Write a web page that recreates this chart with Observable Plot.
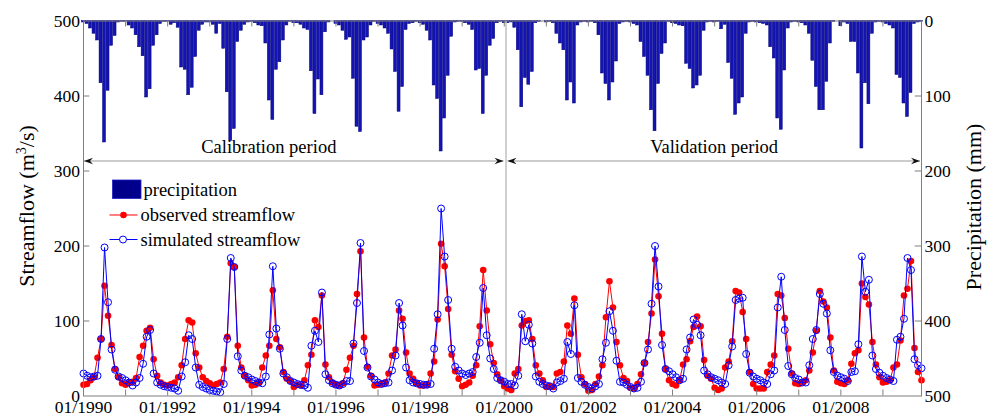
<!DOCTYPE html>
<html><head><meta charset="utf-8">
<script src="https://cdn.jsdelivr.net/npm/d3@7"></script>
<script src="https://cdn.jsdelivr.net/npm/@observablehq/plot@0.6"></script>
<style>
html,body{margin:0;padding:0;background:#fff;}
#chart{width:992px;height:417px;overflow:hidden;}
</style></head><body><div id="chart"></div>
<script>
// Monthly series, 01/1990 .. 12/2009 (index 0..239)
const precipitation = [
  2, 4, 10, 17, 26, 83, 162, 93, 33, 20, 2, 1,
  1, 6, 10, 19, 35, 47, 102, 91, 33, 19, 4, 1,
  1, 5, 3, 9, 62, 65, 99, 89, 48, 13, 5, 2,
  2, 5, 17, 4, 37, 95, 160, 144, 28, 13, 5, 2,
  1, 3, 6, 7, 30, 106, 132, 65, 55, 26, 6, 1,
  3, 3, 5, 10, 12, 67, 124, 78, 99, 15, 2, 0,
  4, 6, 13, 25, 22, 77, 141, 148, 26, 22, 6, 1,
  4, 6, 10, 17, 38, 68, 121, 88, 12, 4, 3, 1,
  3, 5, 13, 26, 86, 104, 174, 130, 73, 21, 2, 1,
  1, 3, 5, 12, 66, 64, 124, 73, 33, 24, 3, 1,
  3, 3, 2, 9, 39, 115, 76, 85, 68, 3, 1, 0,
  2, 1, 3, 17, 30, 39, 106, 82, 110, 6, 2, 1,
  2, 1, 3, 19, 70, 84, 106, 82, 54, 4, 2, 1,
  2, 4, 6, 28, 48, 73, 119, 147, 84, 44, 30, 1,
  3, 4, 6, 7, 57, 64, 90, 86, 73, 13, 2, 1,
  2, 1, 11, 5, 56, 77, 125, 110, 102, 17, 2, 1,
  2, 3, 4, 6, 35, 50, 130, 145, 66, 10, 2, 1,
  2, 3, 6, 17, 53, 88, 119, 119, 81, 30, 1, 0,
  7, 2, 4, 28, 28, 70, 170, 83, 111, 17, 2, 1,
  2, 4, 6, 10, 72, 76, 110, 128, 96, 4, 2, 1
];
const observed = [
  15, 16, 21, 25, 51, 76, 147, 107, 68, 36, 25, 17,
  15, 18, 19, 24, 52, 67, 87, 91, 49, 27, 18, 15,
  14, 16, 18, 25, 41, 76, 101, 98, 57, 38, 25, 20,
  17, 14, 16, 18, 36, 79, 177, 172, 67, 38, 27, 21,
  14, 15, 18, 38, 54, 67, 141, 76, 65, 32, 23, 20,
  12, 15, 14, 21, 41, 55, 101, 92, 134, 42, 25, 18,
  15, 14, 17, 35, 51, 67, 136, 193, 78, 39, 27, 14,
  15, 16, 18, 30, 54, 62, 114, 103, 58, 30, 23, 17,
  14, 14, 15, 30, 46, 102, 203, 173, 116, 55, 33, 23,
  13, 15, 18, 27, 41, 93, 168, 114, 69, 44, 29, 21,
  13, 10, 8, 30, 36, 94, 100, 101, 76, 41, 30, 21,
  12, 13, 12, 30, 32, 46, 94, 83, 130, 55, 25, 16,
  7, 8, 16, 26, 41, 105, 153, 118, 72, 41, 24, 20,
  11, 10, 16, 29, 44, 72, 110, 182, 133, 83, 36, 21,
  16, 14, 21, 42, 49, 73, 92, 106, 93, 48, 27, 23,
  11, 8, 10, 38, 46, 73, 140, 138, 112, 76, 32, 16,
  10, 10, 10, 32, 42, 54, 136, 134, 104, 63, 30, 17,
  16, 18, 21, 34, 58, 87, 140, 126, 118, 78, 34, 19,
  17, 16, 21, 43, 57, 61, 150, 132, 122, 72, 42, 25,
  18, 19, 21, 38, 42, 74, 134, 143, 180, 64, 32, 21
];
const simulated = [
  30, 27, 25, 26, 27, 76, 198, 125, 62, 35, 26, 24,
  21, 18, 14, 18, 24, 43, 79, 88, 30, 18, 15, 13,
  12, 11, 10, 7, 26, 45, 81, 76, 38, 15, 12, 10,
  8, 7, 6, 5, 16, 76, 184, 172, 53, 34, 27, 25,
  22, 20, 18, 17, 26, 82, 173, 90, 63, 30, 25, 20,
  18, 16, 15, 14, 11, 67, 87, 72, 138, 29, 21, 17,
  15, 14, 16, 20, 20, 70, 124, 204, 60, 38, 26, 22,
  18, 16, 17, 18, 34, 54, 124, 94, 38, 21, 18, 17,
  16, 15, 15, 16, 63, 109, 250, 186, 128, 63, 39, 34,
  30, 28, 30, 32, 52, 71, 144, 81, 50, 36, 24, 21,
  19, 16, 16, 14, 27, 109, 73, 95, 70, 26, 19, 16,
  14, 13, 10, 18, 20, 23, 72, 56, 121, 24, 19, 15,
  12, 10, 13, 16, 49, 71, 113, 87, 47, 19, 18, 15,
  12, 10, 11, 19, 44, 62, 123, 200, 146, 68, 36, 33,
  29, 25, 21, 23, 62, 78, 102, 95, 81, 34, 29, 25,
  23, 21, 18, 16, 41, 66, 128, 130, 131, 56, 31, 26,
  23, 21, 18, 16, 29, 34, 118, 159, 88, 40, 29, 24,
  22, 18, 18, 41, 76, 88, 136, 123, 110, 61, 32, 27,
  25, 23, 20, 32, 33, 69, 186, 139, 155, 54, 36, 31,
  27, 24, 22, 20, 75, 79, 103, 184, 168, 49, 41, 37
];
const tickLabels = ["01/1990","01/1992","01/1994","01/1996","01/1998","01/2000","01/2002","01/2004","01/2006","01/2008"];
const labelMonths = [0, 24, 48, 72, 96, 120, 144, 168, 192, 216];
const yearMonths = d3.range(0, 240, 12);
const leftTicks = [0, 100, 200, 300, 400, 500];
const precipTicks = [0, 100, 200, 300, 400, 500];
const periodNames = ["Calibration period", "Validation period"];
const periodLabelMonth = [53, 180];
const splitMonth = 120.5;
const arrowLevel = 312.7;
const legendNames = ["precipitation", "observed streamflow", "simulated streamflow"];

const rows = precipitation.map((p, i) => ({i, p, obs: observed[i], sim: simulated[i]}));
const TOP = 500;
const FONT = "'Liberation Serif', 'Times New Roman', Times, serif";
const GREY = "#7f7f7f";

const plot = Plot.plot({
  width: 992, height: 417,
  marginLeft: 83, marginRight: 71, marginTop: 20.5, marginBottom: 21.5,
  x: {type: "linear", domain: [0, 239], axis: null},
  y: {type: "linear", domain: [0, 500], axis: null},
  style: {fontFamily: FONT, fontSize: "17.5px", color: "#000", background: "#fff", overflow: "visible"},
  marks: [
    Plot.rect(rows, {x1: d => d.i - 0.42, x2: d => d.i + 0.42, y1: TOP, y2: d => TOP - d.p,
      fill: "#1414b4", stroke: "#00007a", strokeWidth: 0.5}),
    Plot.ruleX([splitMonth], {stroke: "#c4c4c4", strokeWidth: 1.6}),
    Plot.line(rows, {x: "i", y: "obs", stroke: "#ff0000", strokeWidth: 1}),
    Plot.dot(rows, {x: "i", y: "obs", fill: "#ff0000", stroke: "none", r: 3.3}),
    Plot.line(rows, {x: "i", y: "sim", stroke: "#0000ff", strokeWidth: 1}),
    Plot.dot(rows, {x: "i", y: "sim", fill: "none", stroke: "#0000ff", strokeWidth: 1, r: 3.5}),
    // inner tick marks
    Plot.ruleX(yearMonths, {x: d => d, y1: 0, y2: 8, stroke: GREY}),
    Plot.ruleX(yearMonths, {x: d => d, y1: TOP, y2: TOP - 8, stroke: GREY}),
    Plot.ruleY(leftTicks.slice(1, -1), {y: d => d, x1: 0, x2: 1.8, stroke: GREY}),
    Plot.ruleY(precipTicks.slice(1, -1), {y: d => d, x1: 239 - 1.8, x2: 239, stroke: GREY}),
    Plot.frame({stroke: GREY, strokeWidth: 1}),
    Plot.axisX({ticks: labelMonths, tickFormat: d => tickLabels[labelMonths.indexOf(d)],
      tickSize: 0, tickPadding: 5, label: null, fontSize: 17.5}),
    Plot.axisY({anchor: "left", ticks: leftTicks, tickFormat: d => String(d),
      tickSize: 0, tickPadding: 3.5, label: null, fontSize: 17.5}),
    Plot.axisY({anchor: "right", ticks: precipTicks, tickFormat: d => String(TOP - d),
      tickSize: 0, tickPadding: 3, label: null, fontSize: 17.5})
  ]
});
document.getElementById("chart").appendChild(plot);

const sx = plot.scale("x"), sy = plot.scale("y");
const X = sx.apply ? v => sx.apply(v) : d3.scaleLinear(sx.domain, sx.range);
const Y = sy.apply ? v => sy.apply(v) : d3.scaleLinear(sy.domain, sy.range);
const svg = d3.select(plot);
const g = svg.append("g").attr("font-family", FONT).attr("fill", "#000").attr("text-anchor", "start");

// axis titles
const lt = g.append("text").attr("transform", `translate(33.5,206) rotate(-90)`)
  .attr("text-anchor", "middle").attr("font-size", 22);
lt.append("tspan").text("Streamflow (m");
lt.append("tspan").attr("font-size", 14).attr("dy", -8).text("3");
lt.append("tspan").attr("dy", 8).text("/s)");
g.append("text").attr("transform", `translate(981,207) rotate(-90)`)
  .attr("text-anchor", "middle").attr("font-size", 22).text("Precipitation (mm)");

// period arrows
const ay = Y(arrowLevel);
function head(x, dir) {
  const L = 9, h = 3.2;
  g.append("path").attr("d", `M${x},${ay} L${x - dir * L},${ay - h} L${x - dir * (L - 3)},${ay} L${x - dir * L},${ay + h} Z`)
    .attr("fill", "#111");
}
const segs = [[X(0) + 1, X(splitMonth) - 2], [X(splitMonth) + 2, X(239) - 1]];
segs.forEach(([a, b]) => {
  g.append("line").attr("x1", a).attr("x2", b).attr("y1", ay).attr("y2", ay)
    .attr("stroke", "#9a9a9a").attr("stroke-width", 1.2);
  head(a, -1); head(b, 1);
});
periodNames.forEach((t, k) => {
  g.append("text").attr("x", X(periodLabelMonth[k])).attr("y", ay - 8)
    .attr("text-anchor", "middle").attr("font-size", 18.5).text(t);
});

// legend
const lg = g.append("g").attr("text-anchor", "start");
lg.append("rect").attr("x", 112.5).attr("y", 180).attr("width", 28.5).attr("height", 18.5)
  .attr("fill", "#00008b").attr("stroke", "#2020c8").attr("stroke-width", 0.8);
lg.append("text").attr("x", 143.5).attr("y", 195.5).attr("font-size", 18.5).text(legendNames[0]);
lg.append("line").attr("x1", 109.5).attr("x2", 137.5).attr("y1", 215).attr("y2", 215)
  .attr("stroke", "#ff0000").attr("stroke-width", 1);
lg.append("circle").attr("cx", 123.5).attr("cy", 215).attr("r", 3.3).attr("fill", "#ff0000");
lg.append("text").attr("x", 140.5).attr("y", 221).attr("font-size", 18.5).text(legendNames[1]);
lg.append("line").attr("x1", 109.5).attr("x2", 137.5).attr("y1", 239.5).attr("y2", 239.5)
  .attr("stroke", "#0000ff").attr("stroke-width", 1);
lg.append("circle").attr("cx", 123).attr("cy", 239.5).attr("r", 3.5).attr("fill", "#fff")
  .attr("stroke", "#0000ff").attr("stroke-width", 1);
lg.append("text").attr("x", 140.5).attr("y", 245.5).attr("font-size", 18.5).text(legendNames[2]);
</script>
</body></html>
